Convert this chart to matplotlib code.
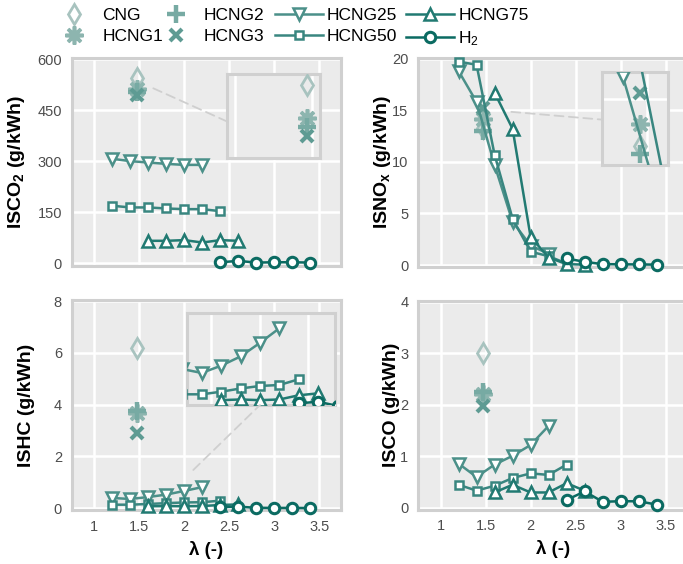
import matplotlib
matplotlib.use("Agg")
import matplotlib.pyplot as plt
from matplotlib.lines import Line2D
from matplotlib.patches import ConnectionPatch
from matplotlib.ticker import MultipleLocator

plt.rcParams['font.family'] = ['Liberation Sans', 'DejaVu Sans']
plt.rcParams['mathtext.fontset'] = 'custom'
plt.rcParams['mathtext.rm'] = 'Liberation Sans'
plt.rcParams['mathtext.bf'] = 'Liberation Sans:bold'
plt.rcParams['mathtext.default'] = 'regular'

# ---------------- data ----------------
lam_single = [1.47]
lam_25 = [1.2, 1.4, 1.6, 1.8, 2.0, 2.2]
lam_50 = [1.2, 1.4, 1.6, 1.8, 2.0, 2.2, 2.4]
lam_75 = [1.6, 1.8, 2.0, 2.2, 2.4, 2.6]
lam_h2 = [2.4, 2.6, 2.8, 3.0, 3.2, 3.4]

co2_cng, co2_h1, co2_h2g, co2_h3 = [545], [512], [503], [494]
co2_25 = [307, 300, 296, 292, 289, 289]
co2_50 = [169, 164, 164, 161, 159, 159, 153]
co2_75 = [66, 66, 68, 61, 68, 66]
co2_hy = [3, 7, 2, 3, 3, 2]

nox_cng, nox_h1, nox_h2g, nox_h3 = [13.3], [14.1], [13.0], [15.2]
nox_25 = [18.8, 15.8, 9.7, 4.2, 1.9, 1.1]
nox_50 = [19.7, 19.4, 10.7, 4.5, 1.3, 0.87, 0.16]
nox_75 = [16.7, 13.2, 2.74, 0.74, 0.1, 0.05]
nox_hy = [0.65, 0.32, 0.1, 0.08, 0.07, 0.05]

hc_cng, hc_h1, hc_h2g, hc_h3 = [6.18], [3.69], [3.75], [2.92]
hc_25 = [0.40, 0.36, 0.435, 0.53, 0.67, 0.82]
hc_50 = [0.14, 0.14, 0.167, 0.20, 0.226, 0.236, 0.295]
hc_75 = [0.08, 0.087, 0.08, 0.087, 0.13, 0.15]
hc_hy = [0.047, 0.064, 0.02, 0.015, 0.015, 0.01]

co_cng, co_h1, co_h2g, co_h3 = [3.01], [2.2], [2.25], [1.98]
co_25 = [0.86, 0.60, 0.84, 1.01, 1.22, 1.59]
co_50 = [0.45, 0.335, 0.43, 0.58, 0.67, 0.64, 0.84]
co_75 = [0.30, 0.45, 0.30, 0.30, 0.48, 0.335]
co_hy = [0.155, 0.32, 0.12, 0.13, 0.13, 0.065]

labels = ['CNG', 'HCNG1', 'HCNG2', 'HCNG3', 'HCNG25', 'HCNG50', 'HCNG75', 'H$_2$']
ylabels = [r'ISCO$_\mathbf{2}$ (g/kWh)', r'ISNO$_\mathbf{x}$ (g/kWh)',
           'ISHC (g/kWh)', 'ISCO (g/kWh)']
xticks = [1, 1.5, 2, 2.5, 3, 3.5]
xticklabels = ['1', '1.5', '2', '2.5', '3', '3.5']

# ---------------- styles ----------------
colors = ['#a8c3bf', '#8db5af', '#77aaa3', '#5e9b93', '#4b9089', '#398680', '#217a72', '#0b6b62']
sc_style = [
    dict(marker='d', ms=10, mew=2.0, mfc='none'),
    dict(marker=(8, 2, 0), ms=13, mew=2.6),
    dict(marker='+', ms=13, mew=3.2),
    dict(marker='x', ms=9, mew=3.0),
]
ln_style = [
    dict(marker='v', ms=8.5, mew=1.8, mfc='white', lw=1.8),
    dict(marker='s', ms=6, mew=1.8, mfc='white', lw=1.8),
    dict(marker='^', ms=8.5, mew=1.8, mfc='white', lw=1.8),
    dict(marker='o', ms=7.5, mew=2.2, mfc='white', lw=1.8),
]
BG = '#ebebeb'
SPINE = '#d0d0d0'
TICKC = '#4d4d4d'

W, H = 683, 564
fig = plt.figure(figsize=(W / 100, H / 100), dpi=100)


def px_axes(x0, y0, x1, y1):
    return fig.add_axes([x0 / W, 1 - y1 / H, (x1 - x0) / W, (y1 - y0) / H])


def style_axes(ax, ymaj):
    ax.set_facecolor(BG)
    for s in ax.spines.values():
        s.set_color(SPINE)
        s.set_linewidth(2.2)
    ax.grid(True, color='white', lw=1.8)
    ax.set_axisbelow(True)
    ax.xaxis.set_major_locator(MultipleLocator(0.5))
    ax.yaxis.set_major_locator(MultipleLocator(ymaj))
    ax.tick_params(length=0)


def draw(ax, series, clip):
    for i in range(4):
        ax.plot(lam_single, series[i], linestyle='none', color=colors[i], mec=colors[i],
                clip_on=clip, zorder=3, **sc_style[i])
    lx = [lam_25, lam_50, lam_75, lam_h2]
    for j in range(4):
        c = colors[4 + j]
        ax.plot(lx[j], series[4 + j], color=c, mec=c, clip_on=clip, zorder=4 + j, **ln_style[j])


panels = [
    dict(box=(71.7, 58, 341, 266), ylim=(-8, 603), ymaj=150,
         data=[co2_cng, co2_h1, co2_h2g, co2_h3, co2_25, co2_50, co2_75, co2_hy],
         inset=dict(box=(0.578, 0.518, 0.344, 0.404), xlim=(0.95, 1.554), ylim=(472, 556)),
         conn=((1.656, 514), (0, 0.436)), labx=-0.166, xlabel=False),
    dict(box=(418, 57.5, 687.3, 266.7), ylim=(-0.15, 20.1), ymaj=5,
         data=[nox_cng, nox_h1, nox_h2g, nox_h3, nox_25, nox_50, nox_75, nox_hy],
         inset=dict(box=(0.683, 0.486, 0.245, 0.443), xlim=(1.314, 1.585), ylim=(12.6, 15.95)),
         conn=((1.786, 14.84), (0, 0.49)), labx=-0.094, xlabel=False),
    dict(box=(71.7, 300, 341, 510), ylim=(-0.065, 8.04), ymaj=2,
         data=[hc_cng, hc_h1, hc_h2g, hc_h3, hc_25, hc_50, hc_75, hc_hy],
         inset=dict(box=(0.427, 0.5, 0.551, 0.437), xlim=(1.245, 2.774), ylim=(0.03, 0.975)),
         conn=((2.1, 1.48), (0.494, 0)), labx=-0.136, xlabel=True),
    dict(box=(418, 300.5, 687.3, 509.5), ylim=(-0.03, 4.02), ymaj=1,
         data=[co_cng, co_h1, co_h2g, co_h3, co_25, co_50, co_75, co_hy],
         inset=None, conn=None, labx=-0.067, xlabel=True),
]

for k, p in enumerate(panels):
    ax = px_axes(*p['box'])
    style_axes(ax, p['ymaj'])
    ax.set_xlim(0.75, 3.74)
    ax.set_ylim(*p['ylim'])
    draw(ax, p['data'], clip=False)
    ax.set_xticks(xticks)
    if p['xlabel']:
        ax.set_xticklabels(xticklabels)
        ax.set_xlabel('λ (-)', fontsize=13.5, fontweight='bold', labelpad=5)
    else:
        ax.set_xticklabels([])
    ax.tick_params(axis='x', pad=7, labelsize=10.5, labelcolor=TICKC)
    ax.tick_params(axis='y', pad=7, labelsize=10.5, labelcolor=TICKC)
    ax.set_ylabel(ylabels[k], fontsize=14, fontweight='bold')
    ax.yaxis.set_label_coords(p['labx'], 0.5)

    if p['inset'] is not None:
        ins = p['inset']
        axin = ax.inset_axes(list(ins['box']))
        style_axes(axin, p['ymaj'])
        axin.set_xlim(*ins['xlim'])
        axin.set_ylim(*ins['ylim'])
        draw(axin, p['data'], clip=True)
        axin.set_xticklabels([])
        axin.set_yticklabels([])
        axin.set_zorder(10)
        (a, b) = p['conn']
        cp = ConnectionPatch(xyA=a, coordsA=ax.transData, xyB=b, coordsB=axin.transAxes,
                             linestyle=(0, (5, 3)), color='#cfcfcf', lw=1.3, zorder=9)
        fig.add_artist(cp)

# ---------------- legends ----------------
hA = [Line2D([], [], linestyle='none', color=colors[i], mec=colors[i], **sc_style[i])
      for i in range(4)]
hB = [Line2D([], [], color=colors[4 + j], mec=colors[4 + j], **ln_style[j]) for j in range(4)]

LFS = 12.5
legA = fig.legend(hA, labels[:4], loc='upper left', bbox_to_anchor=(64 / W, 1 - 8 / H),
                  ncol=2, frameon=False, fontsize=LFS, handlelength=1.15, handletextpad=1.05,
                  columnspacing=0.15, labelspacing=0.35, borderpad=0, borderaxespad=0)
legB = fig.legend(hB, labels[4:], loc='upper left', bbox_to_anchor=(275 / W, 1 - 8 / H),
                  ncol=2, frameon=False, fontsize=LFS, handlelength=2.75, handletextpad=0.25,
                  columnspacing=0.5, labelspacing=0.35, borderpad=0, borderaxespad=0)

fig.savefig('out.png', dpi=100)
